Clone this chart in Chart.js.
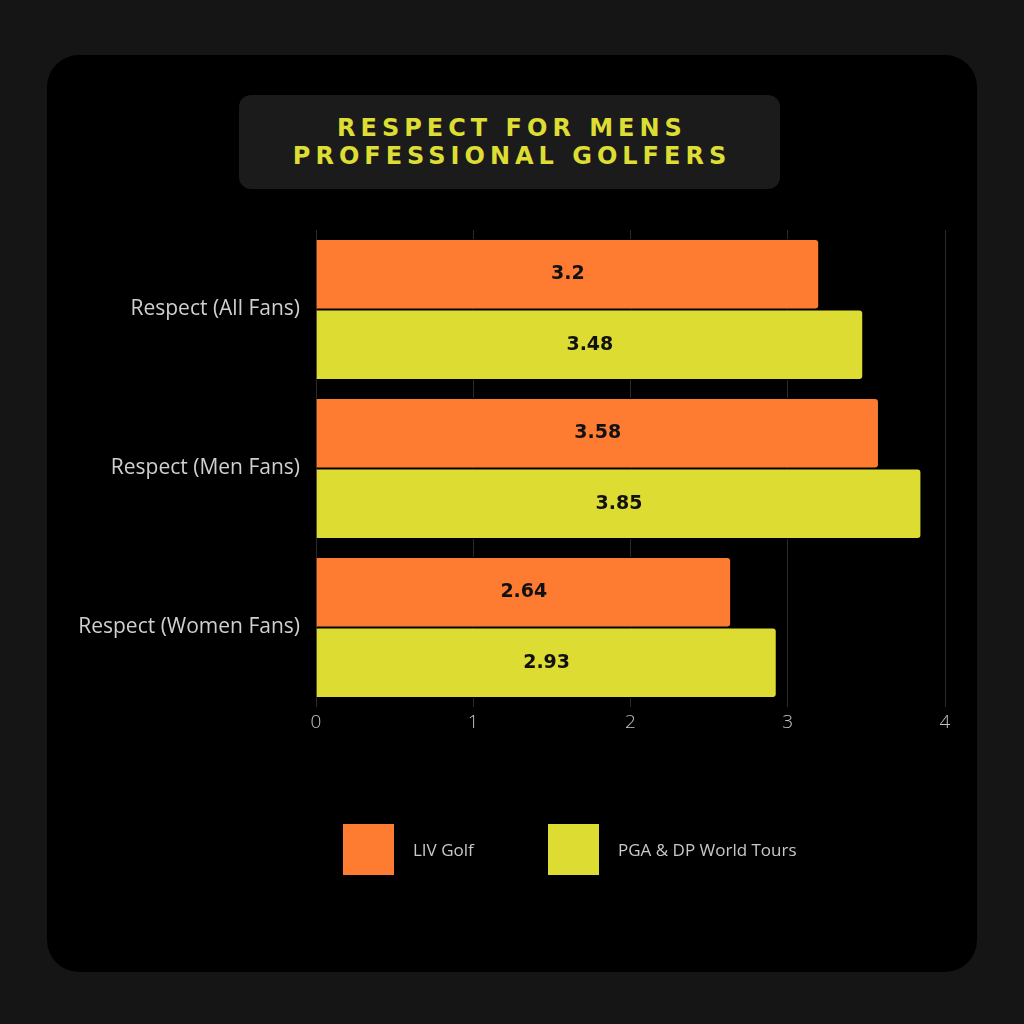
<!DOCTYPE html>
<html>
<head>
<meta charset="utf-8">
<script src="https://cdn.jsdelivr.net/npm/chart.js@4"></script>
<style>
  html, body { margin: 0; padding: 0; background: #151515; }
  #wrap { position: relative; width: 1024px; height: 1024px; }
  #card { position: absolute; left: 47px; top: 55px; width: 930px; height: 917px; background: #000; border-radius: 32px; }
  #title { position: absolute; left: 239px; top: 95px; width: 541px; height: 94px; background: #1b1b1b; border-radius: 12px;
    color: #dedd33; font-family: "DejaVu Sans", sans-serif; font-weight: bold; font-size: 24px; letter-spacing: 5px;
    line-height: 28px; text-align: center; display: flex; align-items: center; justify-content: center; padding-left: 5px; box-sizing: border-box; }
  canvas { position: absolute; left: 0; top: 0; }
  .leg { position: absolute; top: 824px; display: flex; align-items: center; font-family: "Open Sans", sans-serif; font-size: 17px; color: #c8c8c8; }
  .leg span.box { display: inline-block; width: 51px; height: 51px; margin-right: 19px; }
</style>
</head>
<body>
<div id="wrap">
  <div id="card"></div>
  <div id="title">RESPECT FOR MENS<br>PROFESSIONAL GOLFERS</div>
  <canvas id="c" width="1024" height="1024"></canvas>
  <div id="legend"></div>
</div>
<script>
// data
const categories = ['Respect (All Fans)', 'Respect (Men Fans)', 'Respect (Women Fans)'];
const seriesNames = ['LIV Golf', 'PGA & DP World Tours'];
const livGolf = [3.2, 3.58, 2.64];
const pgaDp = [3.48, 3.85, 2.93];
const xTicks = [0, 1, 2, 3, 4];

const colors = ['#fe7b32', '#dddc33'];

// html legend
const legend = document.getElementById('legend');
const legendLeft = [343, 548];
seriesNames.forEach((name, i) => {
  const d = document.createElement('div');
  d.className = 'leg';
  d.style.left = legendLeft[i] + 'px';
  d.innerHTML = '<span class="box" style="background:' + colors[i] + '"></span>' + name;
  legend.appendChild(d);
});

// draws value in the middle of each bar
const barValues = {
  id: 'barValues',
  afterDatasetsDraw(chart) {
    const ctx = chart.ctx;
    ctx.save();
    ctx.font = 'bold 19px "DejaVu Sans", sans-serif';
    ctx.fillStyle = '#111';
    ctx.textAlign = 'center';
    ctx.textBaseline = 'middle';
    chart.data.datasets.forEach((ds, i) => {
      chart.getDatasetMeta(i).data.forEach((bar, j) => {
        const cx = (bar.x + bar.base) / 2;
        ctx.fillText(String(ds.data[j]), cx, bar.y);
      });
    });
    ctx.restore();
  }
};

new Chart(document.getElementById('c'), {
  type: 'bar',
  data: {
    labels: categories,
    datasets: [
      { label: seriesNames[0], data: livGolf, backgroundColor: colors[0] },
      { label: seriesNames[1], data: pgaDp, backgroundColor: colors[1] }
    ]
  },
  options: {
    indexAxis: 'y',
    responsive: false,
    animation: false,
    devicePixelRatio: 1,
    layout: { padding: { left: 30, right: 79, top: 230, bottom: 277 } },
    datasets: {
      bar: {
        categoryPercentage: 0.888,
        barPercentage: 1.0,
        borderRadius: { topRight: 4, bottomRight: 4 },
        borderSkipped: 'start',
        borderWidth: 1,
        borderColor: '#000'
      }
    },
    plugins: {
      legend: { display: false },
      tooltip: { enabled: false }
    },
    scales: {
      x: {
        min: xTicks[0],
        max: xTicks[xTicks.length - 1],
        afterBuildTicks(scale) { scale.ticks = xTicks.map(v => ({ value: v })); },
        afterFit(scale) { scale.height = 40; },
        grid: { color: '#2a2a2a', drawTicks: false, lineWidth: 1 },
        border: { display: false },
        ticks: { color: '#c4c4c4', padding: 4, font: { family: '"Open Sans", sans-serif', size: 19, weight: 300 } }
      },
      y: {
        afterFit(scale) { scale.width = 286; },
        grid: { display: false },
        border: { display: false },
        ticks: { color: '#cfcfcf', padding: 8, font: { family: '"Open Sans", sans-serif', size: 21 } }
      }
    }
  },
  plugins: [barValues]
});
</script>
</body>
</html>
